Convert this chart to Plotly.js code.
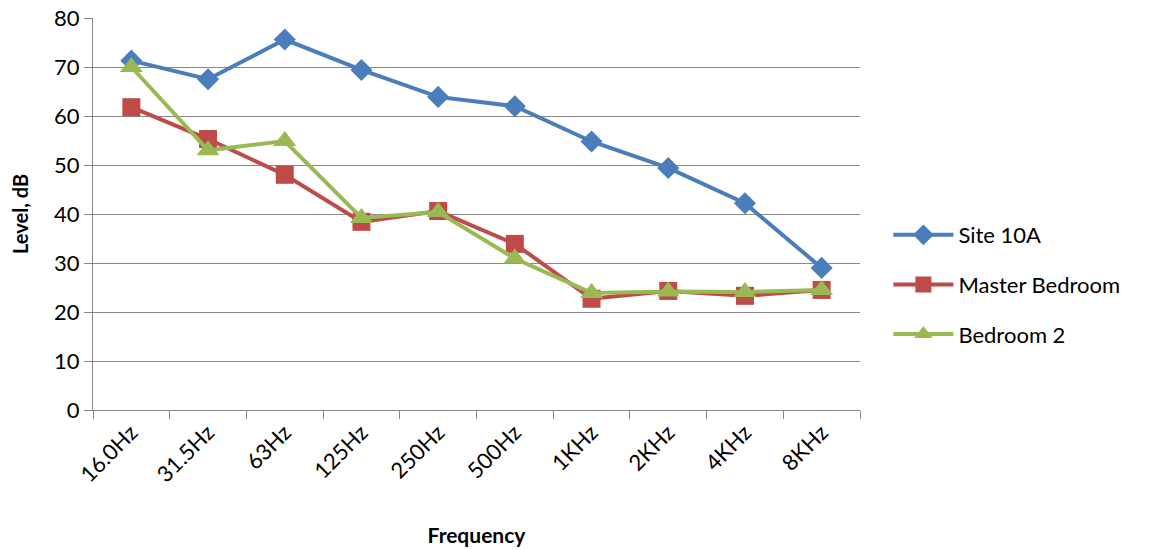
<!DOCTYPE html>
<html>
<head>
<meta charset="utf-8">
<script src="https://cdn.plot.ly/plotly-3.0.1.min.js"></script>
<style>html,body{margin:0;padding:0;background:#fff;}#chart{width:1150px;height:550px;}</style>
</head>
<body>
<div id="chart"></div>
<script>
var categories = ["16.0Hz","31.5Hz","63Hz","125Hz","250Hz","500Hz","1KHz","2KHz","4KHz","8KHz"];
var site10A = [71.3, 67.5, 75.6, 69.4, 63.9, 62.0, 54.8, 49.4, 42.2, 29.0];
var masterBedroom = [61.8, 55.3, 48.0, 38.4, 40.6, 33.9, 22.7, 24.3, 23.3, 24.5];
var bedroom2 = [70.0, 53.0, 54.9, 39.2, 40.4, 30.9, 23.9, 24.2, 24.1, 24.5];
var yTicks = [0,10,20,30,40,50,60,70,80];

var font = "Lato, 'Open Sans', sans-serif";
function tr(name, y, color, symbol, size) {
  return {x: categories, y: y, name: name, legendgroup: name, type: "scatter", mode: "lines+markers",
    line: {color: color, width: 4}, marker: {color: color, symbol: symbol, size: size}};
}
var data = [
  tr("Site 10A", site10A, "#4A7EBB", "diamond", 17),
  tr("Master Bedroom", masterBedroom, "#BE4B48", "square", 18),
  tr("Bedroom 2", bedroom2, "#98B954", "triangle-up", 20)
];
var layout = {
  width: 1150, height: 550,
  margin: {l: 93, r: 290, t: 18, b: 140},
  paper_bgcolor: "#fff", plot_bgcolor: "#fff",
  font: {family: font, color: "#000", size: 21},
  showlegend: true,
  legend: {x: 1.037, y: 0.32, xanchor: "left", yanchor: "middle", font: {size: 22, color: "#000"},
    traceorder: "grouped", tracegroupgap: 18, itemwidth: 60},
  xaxis: {type: "category", range: [-0.5, 9.5], tickangle: -45, showgrid: false, showline: true, linecolor: "#868686", linewidth: 1,
    ticks: "outside", tickson: "boundaries", ticklen: 8, tickcolor: "#868686", tickfont: {size: 22},
    title: {text: "<b>Frequency</b>", font: {size: 21}, standoff: 42}, zeroline: false},
  yaxis: {range: [0, 80], tickvals: yTicks, showgrid: true, gridcolor: "#888", gridwidth: 1, showline: true, linecolor: "#868686",
    ticks: "outside", ticklen: 8, tickcolor: "#868686", tickfont: {size: 22}, zeroline: false,
    title: {text: "<b>Level, dB</b>", font: {size: 20}, standoff: 20}}
};
Plotly.newPlot("chart", data, layout, {displayModeBar: false, staticPlot: true});
</script>
</body>
</html>
